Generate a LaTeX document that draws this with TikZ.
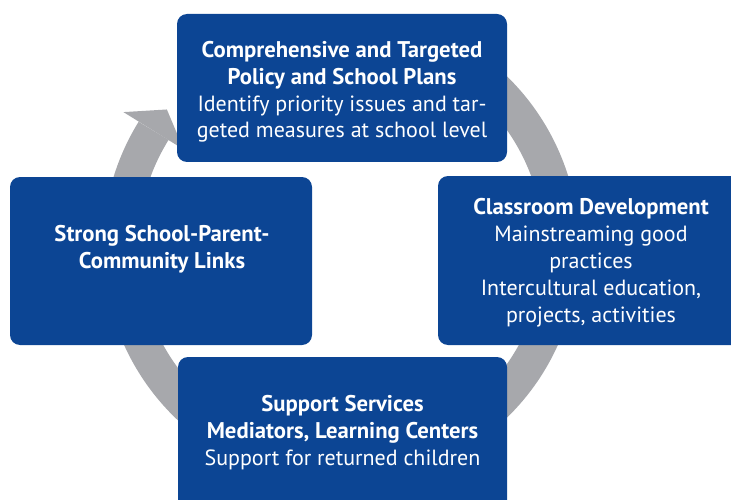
\documentclass[tikz,border=0pt]{standalone}
\usepackage{fontspec}
\setmainfont{PT Sans}
\usetikzlibrary{calc}
\definecolor{boxblue}{RGB}{12,69,148}
\definecolor{ringgray}{RGB}{167,168,172}
\newcommand\boldline[1]{{\fontsize{22.7}{26.8}\selectfont\bfseries #1}}
\begin{document}
\begin{tikzpicture}[x=1pt,y=-1pt,
  box/.style={fill=boxblue, rounded corners=10pt, inner sep=0pt, draw=none},
  txt/.style={text=white, align=center, font=\fontsize{22}{26.8}\selectfont, inner sep=0pt, anchor=base},
  ring/.style={draw=ringgray, line width=35pt}]
\useasboundingbox (0,0) rectangle (731,500);
\clip (0,0) rectangle (731,500);
% ring
\coordinate (c) at (341,247);
\draw[ring] ($(c)+(-70:220.5)$) arc[start angle=-70, end angle=211.8, radius=220.5];
\fill[ringgray] ($(c)+(211.8:256)$) -- ($(c)+(211.8:185)$) -- ($(c)+(218.3:221.9)$) -- cycle;
% boxes
\node[box, minimum width=330pt, minimum height=148pt] (top) at (342,88) {};
\node[box, minimum width=302pt, minimum height=168pt] (left) at (161,261) {};
\node[box, minimum width=306pt, minimum height=169pt] (right) at (591,260.5) {};
\node[box, minimum width=329pt, minimum height=170pt] (bottom) at (342.5,442) {};
% texts (anchor base = baseline of last line)
\node[txt] (toptext) at (342,138) {\boldline{Comprehensive and Targeted}\\\boldline{Policy and School Plans}\\Identify priority issues and tar-\\geted measures at school level};
\node[txt] (lefttext) at (162,268) {\boldline{Strong School-Parent-}\\\boldline{Community Links}};
\node[txt] (righttext) at (591,322) {\boldline{Classroom Development}\\Mainstreaming good\\practices\\Intercultural education,\\projects, activities};
\node[txt] (bottomtext) at (342.5,465) {\boldline{Support Services}\\\boldline{Mediators, Learning Centers}\\Support for returned children};
\end{tikzpicture}
\end{document}
